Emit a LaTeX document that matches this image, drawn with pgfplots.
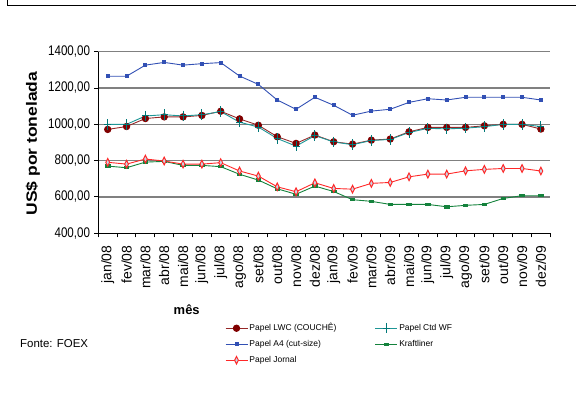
\documentclass[border=0pt]{standalone}
\usepackage{fontspec}
\setmainfont{Liberation Sans}
\usepackage{pgfplots}
\usepackage{pgfplotstable}
\pgfplotsset{compat=1.18}

\definecolor{lwc}{RGB}{128,0,0}
\definecolor{lwcline}{RGB}{150,40,40}
\definecolor{afour}{RGB}{50,80,180}
\definecolor{jornal}{RGB}{255,40,40}
\definecolor{jfill}{RGB}{200,215,230}
\definecolor{ctd}{RGB}{30,150,150}
\definecolor{ctdmark}{RGB}{0,120,120}
\definecolor{kraft}{RGB}{20,130,60}

\pgfplotstableread{
idx lwc  ctd  afour jornal kraft
0   972  1000 1265  791    770
1   988  1000 1265  781    761
2   1032 1046 1326  809    792
3   1041 1053 1341  798    796
4   1041 1046 1326  781    774
5   1049 1053 1334  781    774
6   1072 1070 1340  789    767
7   1030 1012 1266  743    725
8   995  985  1220  715    693
9   932  922  1134  656    645
10  895  880  1083  629    615
11  941  938  1149  678    660
12  904  903  1105  647    630
13  891  888  1050  643    585
14  913  911  1073  675    576
15  919  917  1083  680    559
16  959  955  1121  711    559
17  983  978  1141  726    559
18  983  975  1134  726    546
19  983  979  1149  744    554
20  992  987  1149  752    559
21  1000 1000 1149  757    592
22  1000 1000 1149  757    607
23  974  988  1134  743    607
}\datatable

\begin{document}
\begin{tikzpicture}
\path[use as bounding box] (0bp,0bp) rectangle (576bp,403bp);
\draw[line width=1.2bp] (7.3bp,403bp) -- (7.3bp,397.6bp) -- (576bp,397.6bp);

\begin{axis}[
  at={(98.3bp,169.7bp)}, anchor=south west,
  scale only axis, width=452bp, height=181.6bp,
  xmin=-0.5, xmax=23.5, ymin=400, ymax=1400,
  axis x line*=bottom, axis y line*=left,
  axis line style={black, line width=1.2bp},
  ytick={400,600,...,1400},
  yticklabels={{400,00},{600,00},{800,00},{1000,00},{1200,00},{1400,00}},
  ymajorgrids,
  major grid style={gray, line width=1.3bp},
  xtick={0,...,23},
  xticklabels={jan/08,fev/08,mar/08,abr/08,mai/08,jun/08,jul/08,ago/08,set/08,out/08,nov/08,dez/08,jan/09,fev/09,mar/09,abr/09,mai/09,jun/09,jul/09,ago/09,set/09,out/09,nov/09,dez/09},
  minor xtick={-0.5,0.5,...,23.5},
  tick align=outside,
  major tick length=4bp, minor tick length=4bp,
  tick style={black, line width=1bp},
  every major x tick/.append style={draw=none},
  xticklabel style={rotate=90, anchor=east, inner sep=0pt, font=\fontsize{14}{16}\selectfont, xshift=-8bp},
  yticklabel style={anchor=east, inner sep=0pt, font=\fontsize{14}{16}\selectfont, xscale=0.83, xshift=-5bp},
  legend columns=2,
  legend cell align=left,
  legend image code/.code={\draw[mark repeat=2,mark phase=2] plot coordinates {(0bp,0bp) (11bp,0bp) (22bp,0bp)};},
  legend style={at={(0.28,-0.49)}, anchor=north west, draw=none, fill=none, inner sep=0pt,
    font=\fontsize{8.5}{10}\selectfont,
    nodes={inner sep=1.5bp, text height=6.5bp, text depth=2bp},
    row sep=4.5bp,
    /tikz/every even column/.append style={column sep=37bp}},
  clip=false,
]
\addplot[lwcline, line width=0.9bp, mark=*, mark size=3.2bp, mark options={fill=lwc, draw=lwc}]
  table[x=idx, y=lwc] {\datatable};
\addlegendentry{Papel LWC (COUCHÊ)}
\addplot[ctd, line width=0.9bp, mark=+, mark size=3.5bp, mark options={draw=ctdmark, line width=1bp, yscale=1.5}]
  table[x=idx, y=ctd] {\datatable};
\addlegendentry{Papel Ctd WF}
\addplot[afour, line width=0.9bp, mark=square*, mark size=1.5bp, mark options={fill=afour, draw=afour}]
  table[x=idx, y=afour] {\datatable};
\addlegendentry{Papel A4  (cut-size)}
\addplot[kraft, line width=0.9bp, mark=square*, mark size=1.5bp, mark options={fill=kraft, draw=kraft, xscale=1.5, yscale=0.8}]
  table[x=idx, y=kraft] {\datatable};
\addlegendentry{Kraftliner}
\addplot[jornal, line width=0.9bp, mark=diamond*, mark size=3.2bp, mark options={fill=jfill, draw=jornal, line width=1bp, xscale=0.8, yscale=1.2}]
  table[x=idx, y=jornal] {\datatable};
\addlegendentry{Papel Jornal}
\end{axis}

\node[anchor=west, font=\fontsize{11.5}{13}\selectfont, inner sep=0pt] at (20bp,59.7bp) {Fonte: FOEX};
\node[font=\bfseries\fontsize{13}{15}\selectfont, inner sep=0pt] at (186.7bp,93bp) {mês};
\node[rotate=90, xscale=1.17, font=\bfseries\fontsize{15}{17}\selectfont, inner sep=0pt] at (33bp,259.5bp) {US\$ por tonelada};
\end{tikzpicture}
\end{document}
